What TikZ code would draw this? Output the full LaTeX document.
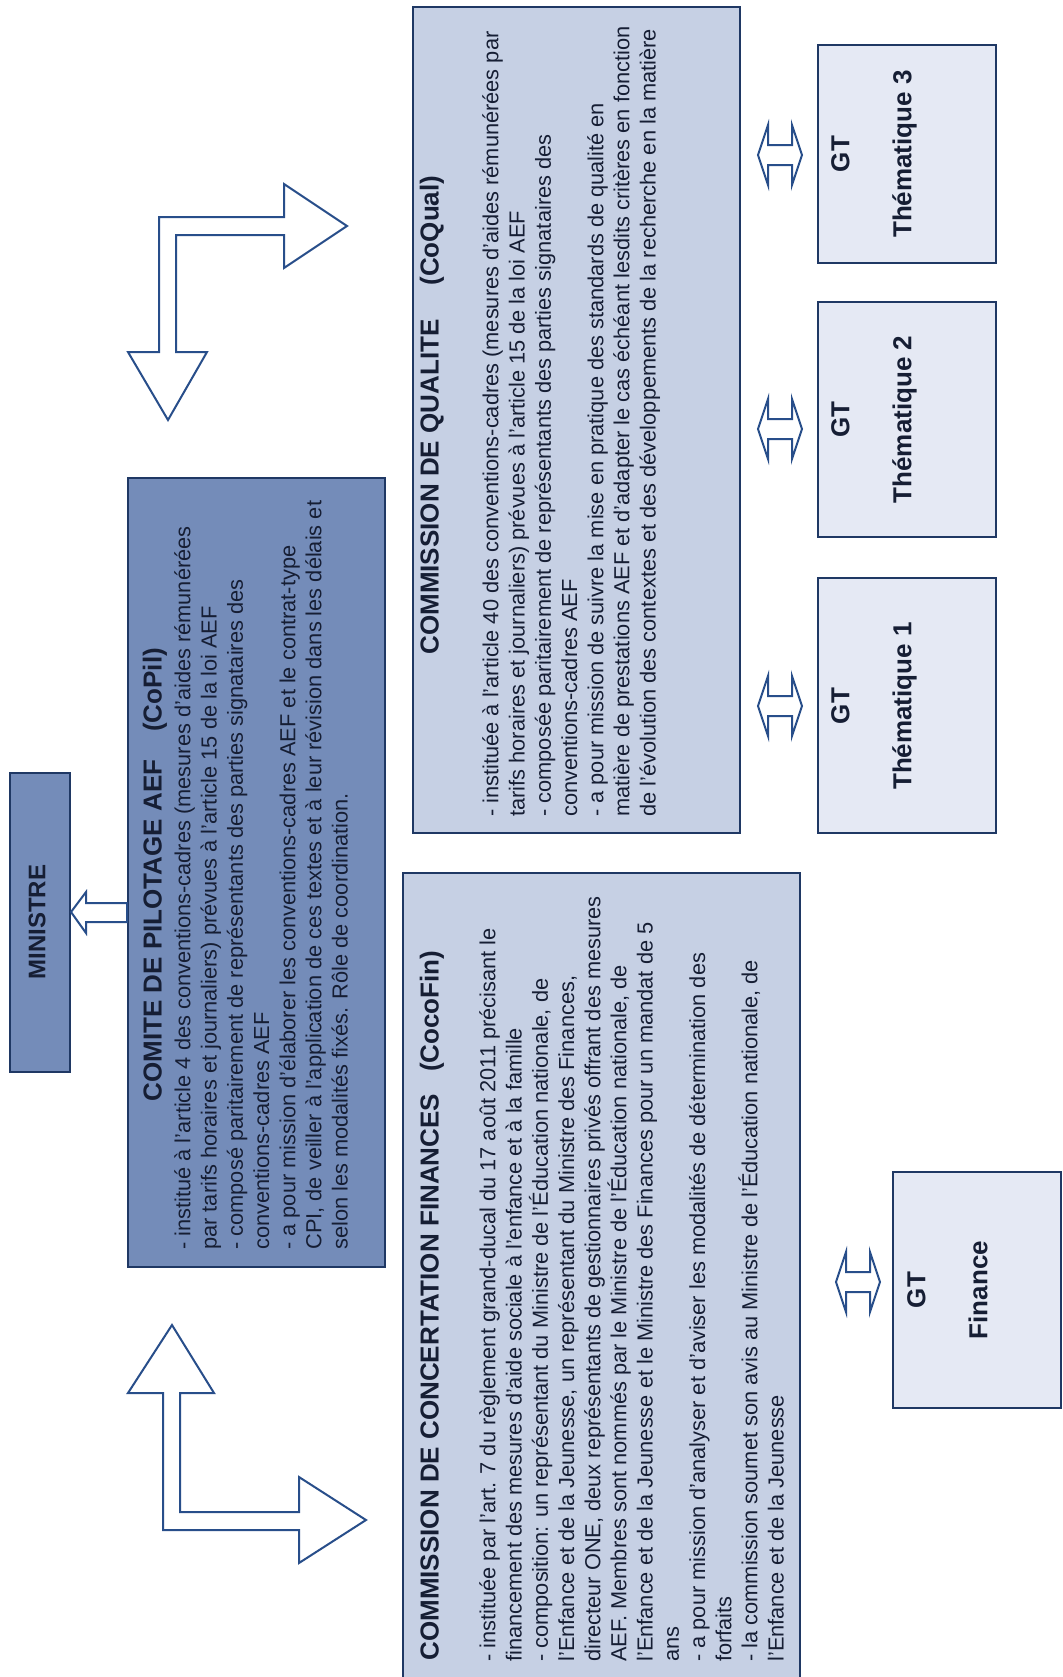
\documentclass[tikz,border=0pt]{standalone}
\usepackage{fontspec}
\setmainfont{Liberation Sans}
\usetikzlibrary{positioning, calc}

\definecolor{navy}{RGB}{31,56,100}
\definecolor{midblue}{RGB}{116,140,185}
\definecolor{paleblue}{RGB}{198,208,228}
\definecolor{gtblue}{RGB}{229,233,244}
\definecolor{arrowblue}{RGB}{40,78,138}
\definecolor{inkcol}{RGB}{22,30,52}

\begin{document}
\begin{tikzpicture}[
  x=0.5pt, y=-0.5pt,
  boxnode/.style={draw=navy, line width=1pt, rectangle, inner sep=0pt},
  darkbox/.style={boxnode, fill=midblue},
  lightbox/.style={boxnode, fill=paleblue},
  gtbox/.style={boxnode, fill=gtblue},
  bodytext/.style={rotate=90, anchor=north west, inner sep=0pt, align=left, text=inkcol, font=\fontsize{10.9}{13.1}\selectfont},
  titletext/.style={rotate=90, anchor=west, inner sep=0pt, text=inkcol, font=\fontsize{13}{15}\selectfont\bfseries},
  gttext/.style={rotate=90, inner sep=0pt, align=center, text=inkcol, font=\fontsize{13}{15.6}\selectfont\bfseries},
  blockarrow/.style={draw=arrowblue, line width=1pt, fill=white, line join=miter}
]
\useasboundingbox (0,0) rectangle (1062,1677);
\clip (0,0) rectangle (1062,1677);
\fill[white] (0,0) rectangle (1062,1677);

% boxes
\node[darkbox, minimum width=30pt, minimum height=149.5pt] (ministre) at (40,922.5) {};
\node[darkbox, minimum width=128.5pt, minimum height=394.5pt] (copil) at (256.5,872.5) {};
\node[lightbox, minimum width=163.5pt, minimum height=413pt] (coqual) at (576.5,420) {};
\node[lightbox, minimum width=198.5pt, minimum height=413.5pt] (cocofin) at (601.5,1286.5) {};
\node[gtbox, minimum width=89pt, minimum height=109pt] (gtThree) at (907,154) {};
\node[gtbox, minimum width=89pt, minimum height=117.5pt] (gtTwo) at (907,419.5) {};
\node[gtbox, minimum width=89pt, minimum height=127.5pt] (gtOne) at (907,705.5) {};
\node[gtbox, minimum width=84pt, minimum height=118pt] (gtFin) at (976.5,1290) {};

% labels
\node[gttext, font=\fontsize{12}{14}\selectfont\bfseries] (ministreLabel) at (37,922) {MINISTRE};
\node[gttext] (gtThreeLabel) at (874,154) {GT\\[15.4pt]Thématique 3};
\node[gttext] (gtTwoLabel) at (874,419.5) {GT\\[15.4pt]Thématique 2};
\node[gttext] (gtOneLabel) at (874,706) {GT\\[15.4pt]Thématique 1};
\node[gttext] (gtFinLabel) at (947.5,1290) {GT\\[15.4pt]Finance};

\node[titletext] (copilTitle) at (155,1102) {COMITE DE PILOTAGE AEF\hspace{14pt}(CoPil)};
\node[bodytext] (copilText) at (174,1250) {- institué à l'article 4 des conventions-cadres (mesures d'aides rémunérées\\
par tarifs horaires et journaliers) prévues à l'article 15 de la loi AEF\\
- composé paritairement de représentants des parties signataires des\\
conventions-cadres AEF\\
- a pour mission d'élaborer les conventions-cadres AEF et le contrat-type\\
CPI, de veiller à l'application de ces textes et à leur révision dans les délais et\\
selon les modalités fixés. Rôle de coordination.};

\node[titletext] (coqualTitle) at (432,655) {COMMISSION DE QUALITE\hspace{17pt}(CoQual)};
\node[bodytext] (coqualText) at (482,817) {- instituée à l'article 40 des conventions-cadres (mesures d'aides rémunérées par\\
tarifs horaires et journaliers) prévues à l'article 15 de la loi AEF\\
- composée paritairement de représentants des parties signataires des\\
conventions-cadres AEF\\
- a pour mission de suivre la mise en pratique des standards de qualité en\\
matière de prestations AEF et d'adapter le cas échéant lesdits critères en fonction\\
de l'évolution des contextes et des développements de la recherche en la matière};

\node[titletext] (cocofinTitle) at (432,1661) {COMMISSION DE CONCERTATION FINANCES\hspace{11pt}(CocoFin)};
\node[bodytext] (cocofinText) at (479,1662) {- instituée par l'art. 7 du règlement grand-ducal du 17 août 2011 précisant le\\
financement des mesures d'aide sociale à l'enfance et à la famille\\
- composition: un représentant du Ministre de l'Éducation nationale, de\\
l'Enfance et de la Jeunesse, un représentant du Ministre des Finances,\\
directeur ONE, deux représentants de gestionnaires privés offrant des mesures\\
AEF. Membres sont nommés par le Ministre de l'Éducation nationale, de\\
l'Enfance et de la Jeunesse et le Ministre des Finances pour un mandat de 5\\
ans\\
- a pour mission d'analyser et d'aviser les modalités de détermination des\\
forfaits\\
- la commission soumet son avis au Ministre de l'Éducation nationale, de\\
l'Enfance et de la Jeunesse};

% block arrows
\draw[blockarrow] (347,226) -- (284,184) -- (284,217) -- (159,217) -- (159,352) -- (128,352)
  -- (168,420) -- (207,352) -- (176,352) -- (176,235) -- (284,235) -- (284,268) -- cycle;
\draw[blockarrow] (172,1325) -- (214,1393) -- (180,1393) -- (180,1512) -- (299,1512) -- (299,1477)
  -- (366,1520) -- (299,1563) -- (299,1530) -- (163,1530) -- (163,1393) -- (128,1393) -- cycle;
\draw[blockarrow] (ministre.east |- 0,912) -- (86,892) -- (86,903) -- (copil.west |- 0,903)
  -- (copil.west |- 0,922) -- (86,922) -- (86,933) -- cycle;

\foreach \cx/\cy in {780/155, 780/429, 780/706, 858/1282}{
  \draw[blockarrow] ({\cx-22},\cy) -- ({\cx-12},{\cy-30}) -- ({\cx-12},{\cy-10}) -- ({\cx+12},{\cy-10})
    -- ({\cx+12},{\cy-30}) -- ({\cx+22},\cy) -- ({\cx+12},{\cy+30}) -- ({\cx+12},{\cy+10})
    -- ({\cx-12},{\cy+10}) -- ({\cx-12},{\cy+30}) -- cycle;
}
\end{tikzpicture}
\end{document}
